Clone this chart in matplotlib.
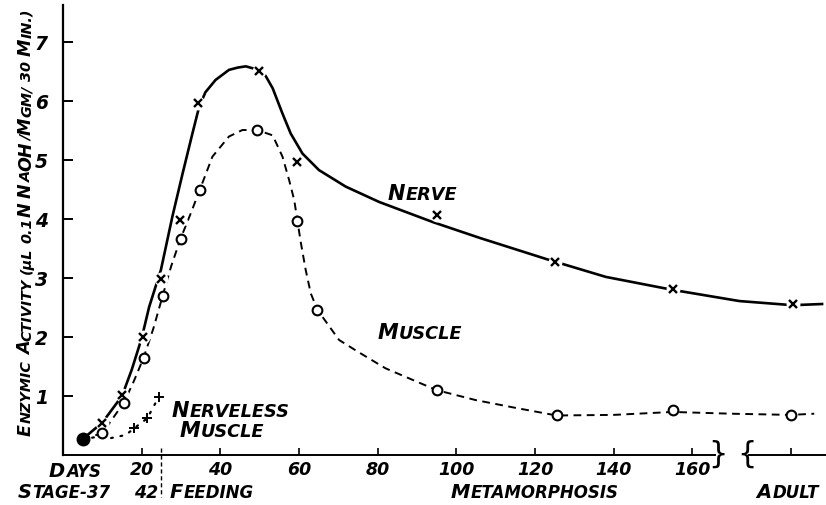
import matplotlib
matplotlib.use("Agg")
import matplotlib.pyplot as plt
from matplotlib.transforms import IdentityTransform

# Werte (Tage, Aktivität)
nerve_days = [9.8, 14.9, 20.3, 24.9, 29.7, 34.4, 49.9, 59.6, 95, 125, 155, 185.5]
nerve_vals = [0.55, 1.02, 2.0, 2.98, 3.98, 5.97, 6.51, 4.97, 4.07, 3.28, 2.82, 2.56]
# Verlauf der gezeichneten Kurve (Nerv)
nerve_curve_days = [5, 10, 15, 17.5, 20, 21.9, 24.9, 27.8, 30.4, 32.9, 34.6, 36.2, 38.8, 42.2,
                    44.5, 46.5, 49.6, 51.5, 53.3, 55.8, 57.9, 60.9, 65.1, 71.9, 80.4, 94, 106,
                    123, 138, 155, 172, 185.5, 193]
nerve_curve_vals = [0.27, 0.55, 1.0, 1.45, 1.98, 2.51, 3.14, 4.04, 4.77, 5.45, 5.9, 6.15, 6.36, 6.53,
                    6.57, 6.59, 6.53, 6.43, 6.22, 5.79, 5.45, 5.11, 4.83, 4.55, 4.29, 3.95, 3.68,
                    3.32, 3.02, 2.8, 2.61, 2.54, 2.56]

muscle_days = [10, 15.5, 20.5, 25.3, 29.9, 34.8, 49.4, 59.6, 64.7, 95, 125.5, 155, 185]
muscle_vals = [0.37, 0.89, 1.65, 2.69, 3.67, 4.5, 5.51, 3.97, 2.46, 1.1, 0.67, 0.76, 0.68]
muscle_curve_days = [5, 10, 15.5, 18, 20.5, 23, 25.3, 27.5, 29.9, 32.5, 34.8, 38, 42.2, 45.6, 49.4,
                     53.3, 55.8, 57.5, 58.8, 59.6, 60.5, 61.7, 63, 64.7, 70.2, 75, 82, 95, 105,
                     115, 125.5, 140, 155, 170, 185, 191]
muscle_curve_vals = [0.27, 0.37, 0.89, 1.25, 1.65, 2.15, 2.69, 3.2, 3.67, 4.1, 4.5, 5.06, 5.4, 5.51, 5.51,
                     5.42, 5.06, 4.66, 4.32, 3.97, 3.59, 3.14, 2.74, 2.46, 1.95, 1.75, 1.47, 1.1, 0.93,
                     0.8, 0.67, 0.68, 0.73, 0.7, 0.68, 0.7]

nerveless_days = [18, 21.4, 24.4]
nerveless_vals = [0.45, 0.62, 0.99]
nerveless_curve_days = [5, 8, 11.7, 16, 18, 21.4, 24.4]
nerveless_curve_vals = [0.27, 0.3, 0.28, 0.34, 0.45, 0.62, 0.99]

start_day, start_val = 5, 0.27

xtick_pos = [20, 40, 60, 80, 100, 120, 140, 160, 185]
xtick_lab = ["20", "40", "60", "80", "100", "120", "140", "160", ""]
ytick_pos = [1, 2, 3, 4, 5, 6, 7]

W, H = 826, 505
font = dict(family="DejaVu Sans", style="italic", weight="bold", color="black")

fig = plt.figure(figsize=(W / 100, H / 100), dpi=100)
ax = fig.add_axes([63 / W, 50 / H, (W - 63) / W, 450 / H])
ax.set_xlim(0, 194)
ax.set_ylim(0, 7.63)

for s in ["top", "right", "bottom"]:
    ax.spines[s].set_visible(False)
ax.spines["left"].set_linewidth(1.6)

# Kurven
ax.plot(nerve_curve_days, nerve_curve_vals, color="black", lw=1.9, zorder=2,
        solid_joinstyle="round")
ax.plot(muscle_curve_days, muscle_curve_vals, color="black", lw=1.4, dashes=(4, 2.8), zorder=2)
ax.plot(nerveless_curve_days, nerveless_curve_vals, color="black", lw=1.6,
        ls=(0, (0.8, 3.5)), dash_capstyle="round", zorder=2)

# Punkte
ax.plot(nerve_days, nerve_vals, ls="none", marker="o", ms=10, mfc="white", mec="none", zorder=3)
ax.plot(nerve_days, nerve_vals, ls="none", marker="x", ms=6, mew=1.7, color="black", zorder=4)
ax.plot(muscle_days, muscle_vals, ls="none", marker="o", ms=7, mew=1.5, mfc="white",
        mec="black", zorder=4)
ax.plot(nerveless_days, nerveless_vals, ls="none", marker="+", ms=7, mew=1.4, color="black", zorder=4)
ax.plot([start_day], [start_val], ls="none", marker="o", ms=9, color="black", zorder=5)

# x-Achse mit Unterbrechung
ax.plot([0, 165.8], [0, 0], color="black", lw=1.4, clip_on=False)
ax.plot([174.3, 194], [0, 0], color="black", lw=1.4, clip_on=False)
ax.text(166.6, 0.02, "}", fontsize=22, ha="center", va="center", family="DejaVu Sans")
ax.text(173.8, 0.02, "{", fontsize=22, ha="center", va="center", family="DejaVu Sans")
ax.plot([25, 25], [0.12, -0.72], color="black", lw=1.0, dashes=(3, 2), clip_on=False)

ax.set_xticks(xtick_pos)
ax.set_xticklabels(xtick_lab)
ax.set_yticks(ytick_pos)
ax.tick_params(axis="x", direction="in", length=5, width=1.2, pad=4, labelsize=12.5)
ax.tick_params(axis="y", direction="in", length=7, width=1.4, pad=11, labelsize=13.5)
for lbl in ax.get_xticklabels() + ax.get_yticklabels():
    lbl.set_fontstyle("italic")
    lbl.set_fontweight("bold")

renderer = fig.canvas.get_renderer()


# Kapitälchen: Großbuchstaben groß, Rest klein
def sc_text(px, py, s, big, small, rot=0, ha="left"):
    runs = []
    for i, word in enumerate(s.split(" ")):
        if i:
            runs.append((None, small))
        cur, cur_size = "", None
        for ch in word:
            size = big if ch.isupper() else small
            if cur and size != cur_size:
                runs.append((cur, cur_size))
                cur = ""
            cur += ch.upper() if ch.isascii() else ch
            cur_size = size
        if cur:
            runs.append((cur, cur_size))
    parts = []
    total = 0
    for txt, size in runs:
        if txt is None:
            w = size * 0.42
            parts.append((None, w))
        else:
            t = fig.text(0, 0, txt, transform=IdentityTransform(), fontsize=size, rotation=rot,
                         rotation_mode="anchor", ha="left", va="baseline", **font)
            bb = t.get_window_extent(renderer)
            w = (bb.height if rot else bb.width) + 0.5
            parts.append((t, w))
        total += w
    pos = -total / 2 if ha == "center" else 0
    for t, w in parts:
        if t is not None:
            if rot:
                t.set_position((px, H - py + pos))
            else:
                t.set_position((px + pos, H - py))
        pos += w


sc_text(31, 222, "Enzymic Activity (\u03bcl 0.1N NaOH/Mgm/ 30 Min.)", 12.6, 10.4, rot=90, ha="center")
sc_text(423, 200, "Nerve", 15, 12.8, ha="center")
sc_text(420, 339, "Muscle", 15, 12.8, ha="center")
sc_text(172, 417, "Nerveless", 15, 12.8)
sc_text(180, 437, "Muscle", 15, 12.8)

sc_text(75, 477, "Days", 14, 12, ha="center")
sc_text(64, 498, "Stage-37", 14, 12, ha="center")
sc_text(146, 498, "42", 13, 12.5, ha="center")
sc_text(170, 498, "Feeding", 14, 12)
sc_text(535, 498, "Metamorphosis", 14, 12, ha="center")
sc_text(788, 498, "Adult", 14, 12, ha="center")

fig.savefig("out.png", dpi=100)
